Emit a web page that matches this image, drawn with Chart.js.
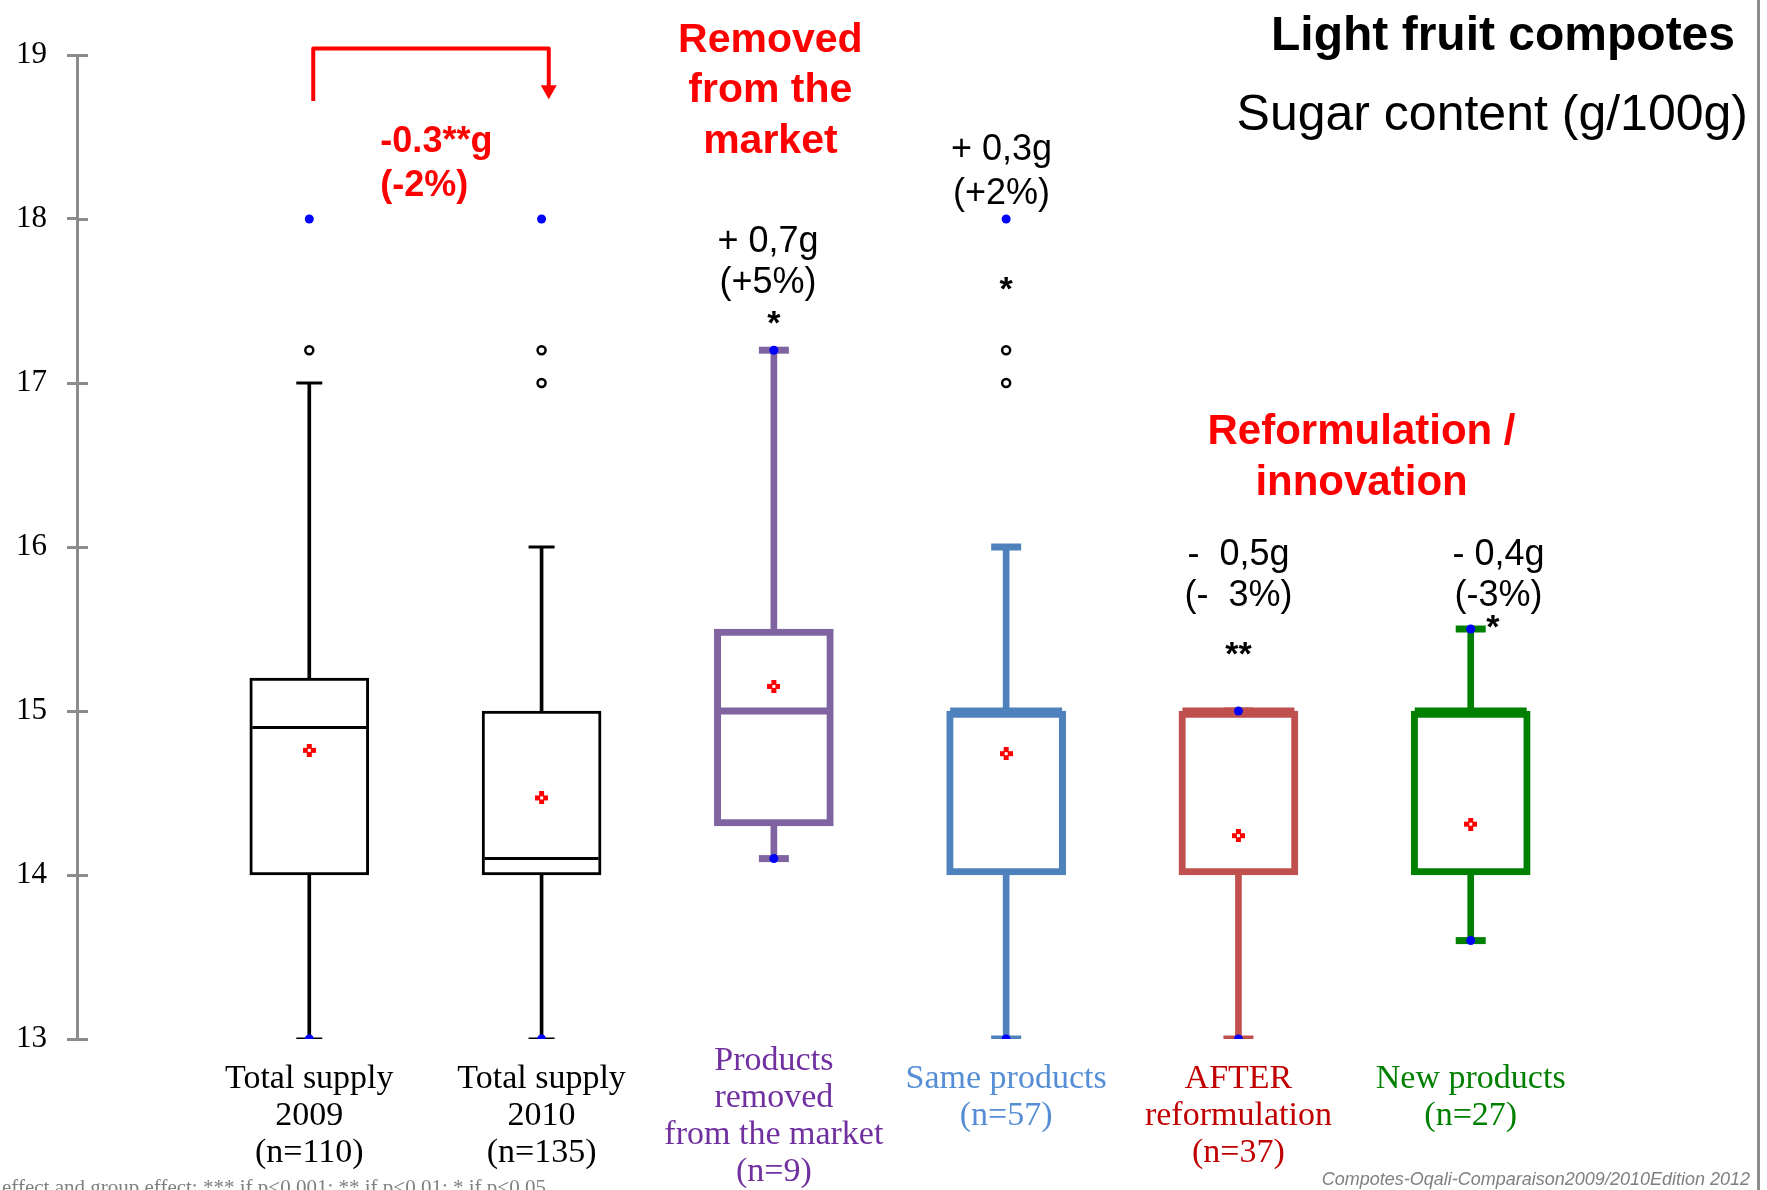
<!DOCTYPE html>
<html>
<head>
<meta charset="utf-8">
<script src="https://cdn.jsdelivr.net/npm/chart.js@4/dist/chart.umd.min.js"></script>
<style>
  html, body { margin: 0; padding: 0; background: #fff; }
  #wrap { width: 1757px; height: 1190px; border-right: 3px solid #8c8c8c; }
</style>
</head>
<body>
<div id="wrap"><canvas id="c" width="1757" height="1190"></canvas></div>
<script>
const groups = [
  ["Total supply", "2009", "(n=110)"],
  ["Total supply", "2010", "(n=135)"],
  ["Products", "removed", "from the market", "(n=9)"],
  ["Same products", "(n=57)", ""],
  ["AFTER", "reformulation", "(n=37)"],
  ["New products", "(n=27)", ""],
];
const labelColors = ["#000000", "#000000", "#7030a0", "#558ed5", "#c00000", "#008000"];
const boxColors = ["#000000", "#000000", "#8064a2", "#4f81bd", "#c0504d", "#008000"];

// box plot values (g/100g)
const whiskerLow = [13, 13, 14.1, 13, 13, 13.6];
const q1 = [14, 14, 14.3, 14, 14, 14];
const median = [14.9, 14.1, 15.0, 15, 15, 15];
const q3 = [15.2, 15, 15.5, 15, 15, 15];
const whiskerHigh = [17, 16, 17.2, 16, 15, 15.5];
const means = [14.76, 14.47, 15.15, 14.74, 14.24, 14.31];
const minValues = [13, 13, 14.1, 13, 13, 13.6];
const maxValues = [18, 18, 17.2, 18, 15, 15.5];
const outliers = [[17.2], [17.2, 17.0], [], [17.2, 17.0], [], []];

// significance stars
const stars = ["", "", "*", "*", "**", "*"];
const starAt = [null, null, [2, 17.42], [3, 17.63], [4, 15.4], [5.095, 15.57]];

const RED = "#ff0000";
const SANS = "'Liberation Sans', Arial, sans-serif";
const SERIF = "'Liberation Serif', 'Times New Roman', serif";

// annotations anchored on the chart's own scales (x = group index, y = g/100g)
const notes = [
  { lines: ["Removed", "from the", "market"], x: 1.985, y: [19.09, 18.78, 18.47], font: "bold 41px " + SANS, color: RED, align: "center" },
  { lines: ["-0.3**g", "(-2%)"], x: 0.306, y: [18.466, 18.203], font: "bold 36px " + SANS, color: RED, align: "left" },
  { lines: ["+ 0,7g", "(+5%)"], x: 1.975, y: [17.86, 17.61], font: "36px " + SANS, color: "#000", align: "center" },
  { lines: ["+ 0,3g", "(+2%)"], x: 2.98, y: [18.42, 18.15], font: "36px " + SANS, color: "#000", align: "center" },
  { lines: ["Reformulation /", "innovation"], x: 4.53, y: [16.70, 16.39], font: "bold 42px " + SANS, color: RED, align: "center" },
  { lines: ["-  0,5g", "(-  3%)"], x: 4.0, y: [15.95, 15.70], font: "36px " + SANS, color: "#000", align: "center" },
  { lines: ["- 0,4g", "(-3%)"], x: 5.12, y: [15.95, 15.70], font: "36px " + SANS, color: "#000", align: "center" },
];
const bracket = { from: 0.017, to: 1.031, top: 19.04, start: 18.72, tip: 18.73 };

function plusMarker() {
  const c = document.createElement("canvas");
  c.width = 13;
  c.height = 13;
  const g = c.getContext("2d");
  g.fillStyle = RED;
  g.fillRect(4, 0, 5, 13);
  g.fillRect(0, 4, 13, 5);
  g.fillStyle = "#ffffff";
  g.fillRect(5, 5, 3, 3);
  return c;
}

function groupSets(idx, lw, ww, capR, medR) {
  const cols = idx.map((i) => boxColors[i]);
  const pts = (arr) => idx.map((i) => ({ x: i, y: arr[i] }));
  const line = (arr, r) => ({
    type: "scatter", data: pts(arr), pointStyle: "line", pointRadius: r,
    pointBorderColor: cols, pointBorderWidth: lw, order: 3,
  });
  return [
    { type: "bar", data: idx.map((i) => ({ x: i, y: [whiskerLow[i], q1[i]] })), backgroundColor: cols, barThickness: ww, grouped: false, order: 5 },
    { type: "bar", data: idx.map((i) => ({ x: i, y: [q3[i], whiskerHigh[i]] })), backgroundColor: cols, barThickness: ww, grouped: false, order: 5 },
    { type: "bar", data: idx.map((i) => ({ x: i, y: [q1[i], q3[i]] })), backgroundColor: "#ffffff", borderColor: cols, borderWidth: lw, borderSkipped: false, barThickness: 119, grouped: false, order: 4 },
    line(median, medR),
    line(whiskerLow, capR),
    line(whiskerHigh, capR),
  ];
}

const datasets = [
  ...groupSets([0, 1], 3, 3, 13, 57),
  ...groupSets([2, 3, 4, 5], 7, 6, 15, 56),
  {
    type: "scatter", data: means.map((v, i) => ({ x: i, y: v })),
    pointStyle: plusMarker(), order: 1,
  },
  {
    type: "scatter", data: outliers.flatMap((arr, i) => arr.map((v) => ({ x: i, y: v }))),
    pointRadius: 4, pointBackgroundColor: "#ffffff", pointBorderColor: "#000000", pointBorderWidth: 2.5, order: 1,
  },
  {
    type: "scatter", data: [...minValues.map((v, i) => ({ x: i, y: v })), ...maxValues.map((v, i) => ({ x: i, y: v }))],
    pointRadius: 4.5, pointBackgroundColor: "#0000ff", pointBorderWidth: 0, order: 0,
  },
];

const decor = {
  id: "decor",
  afterDraw(chart) {
    const { ctx, chartArea } = chart;
    const x = chart.scales.x, y = chart.scales.y;
    ctx.save();

    // right half of the crossing y ticks
    ctx.strokeStyle = "#8c8c8c";
    ctx.lineWidth = 3;
    for (const t of y.ticks) {
      const py = Math.round(y.getPixelForValue(t.value)) + 0.5;
      ctx.beginPath();
      ctx.moveTo(chartArea.left, py);
      ctx.lineTo(chartArea.left + 11, py);
      ctx.stroke();
    }

    // bracket arrow between 2009 and 2010
    const xl = x.getPixelForValue(bracket.from), xr = x.getPixelForValue(bracket.to);
    const yt = y.getPixelForValue(bracket.top), tip = y.getPixelForValue(bracket.tip);
    ctx.strokeStyle = RED;
    ctx.fillStyle = RED;
    ctx.lineWidth = 4;
    ctx.lineJoin = "round";
    ctx.beginPath();
    ctx.moveTo(xl, y.getPixelForValue(bracket.start));
    ctx.lineTo(xl, yt);
    ctx.lineTo(xr, yt);
    ctx.lineTo(xr, tip - 12);
    ctx.stroke();
    ctx.beginPath();
    ctx.moveTo(xr - 8, tip - 14);
    ctx.lineTo(xr + 8, tip - 14);
    ctx.lineTo(xr, tip);
    ctx.closePath();
    ctx.fill();

    // text notes
    ctx.textBaseline = "middle";
    for (const n of notes) {
      ctx.font = n.font;
      ctx.fillStyle = n.color;
      ctx.textAlign = n.align;
      n.lines.forEach((s, k) => ctx.fillText(s, x.getPixelForValue(n.x), y.getPixelForValue(n.y[k])));
    }

    // stars (baseline set so the glyph centre sits on the value)
    ctx.font = "bold 34px " + SANS;
    ctx.fillStyle = "#000";
    ctx.textAlign = "center";
    ctx.textBaseline = "alphabetic";
    stars.forEach((s, i) => {
      if (!s) return;
      const [sx, sy] = starAt[i];
      ctx.fillText(s, x.getPixelForValue(sx), y.getPixelForValue(sy) + 20);
    });

    // titles
    ctx.textAlign = "right";
    ctx.font = "bold 48px " + SANS;
    ctx.fillText("Light fruit compotes", chart.width - 22, 50);
    ctx.font = "50px " + SANS;
    ctx.fillText("Sugar content (g/100g)", chart.width - 9, 130);

    // footers
    ctx.fillStyle = "#808080";
    ctx.textBaseline = "middle";
    ctx.font = "italic 18px " + SANS;
    ctx.fillText("Compotes-Oqali-Comparaison2009/2010Edition 2012", chart.width - 7, 1180);
    ctx.textAlign = "left";
    ctx.font = "21px " + SERIF;
    ctx.fillText("effect and group effect: *** if p<0.001; ** if p<0.01; * if p<0.05", 2, 1188);
    ctx.restore();
  },
};

new Chart(document.getElementById("c"), {
  type: "bar",
  data: { datasets },
  options: {
    responsive: false,
    animation: false,
    devicePixelRatio: 1,
    events: [],
    layout: { autoPadding: false, padding: { top: 55, right: 54, bottom: 0, left: 0 } },
    plugins: { legend: { display: false }, tooltip: { enabled: false } },
    scales: {
      x: {
        type: "linear",
        offset: false,
        min: -1,
        max: 6,
        afterBuildTicks: (s) => { s.ticks = groups.map((g, i) => ({ value: i })); },
        afterFit: (s) => { s.height = 151; },
        grid: { display: false, drawTicks: false },
        border: { display: false },
        ticks: {
          callback: (v) => groups[v],
          color: (c) => labelColors[c.index],
          font: { family: SERIF, size: 34, lineHeight: "37px" },
          padding: 22,
          crossAlign: "center",
          maxRotation: 0,
          minRotation: 0,
          autoSkip: false,
        },
      },
      y: {
        min: 13,
        max: 19,
        afterFit: (s) => { s.width = 77; },
        grid: { drawOnChartArea: false, drawTicks: true, tickLength: 10, color: "#8c8c8c", lineWidth: 3 },
        border: { display: true, color: "#8c8c8c", width: 3 },
        ticks: {
          stepSize: 1,
          color: "#000",
          padding: 20,
          font: { family: SERIF, size: 31 },
        },
      },
    },
  },
  plugins: [decor],
});
</script>
</body>
</html>
